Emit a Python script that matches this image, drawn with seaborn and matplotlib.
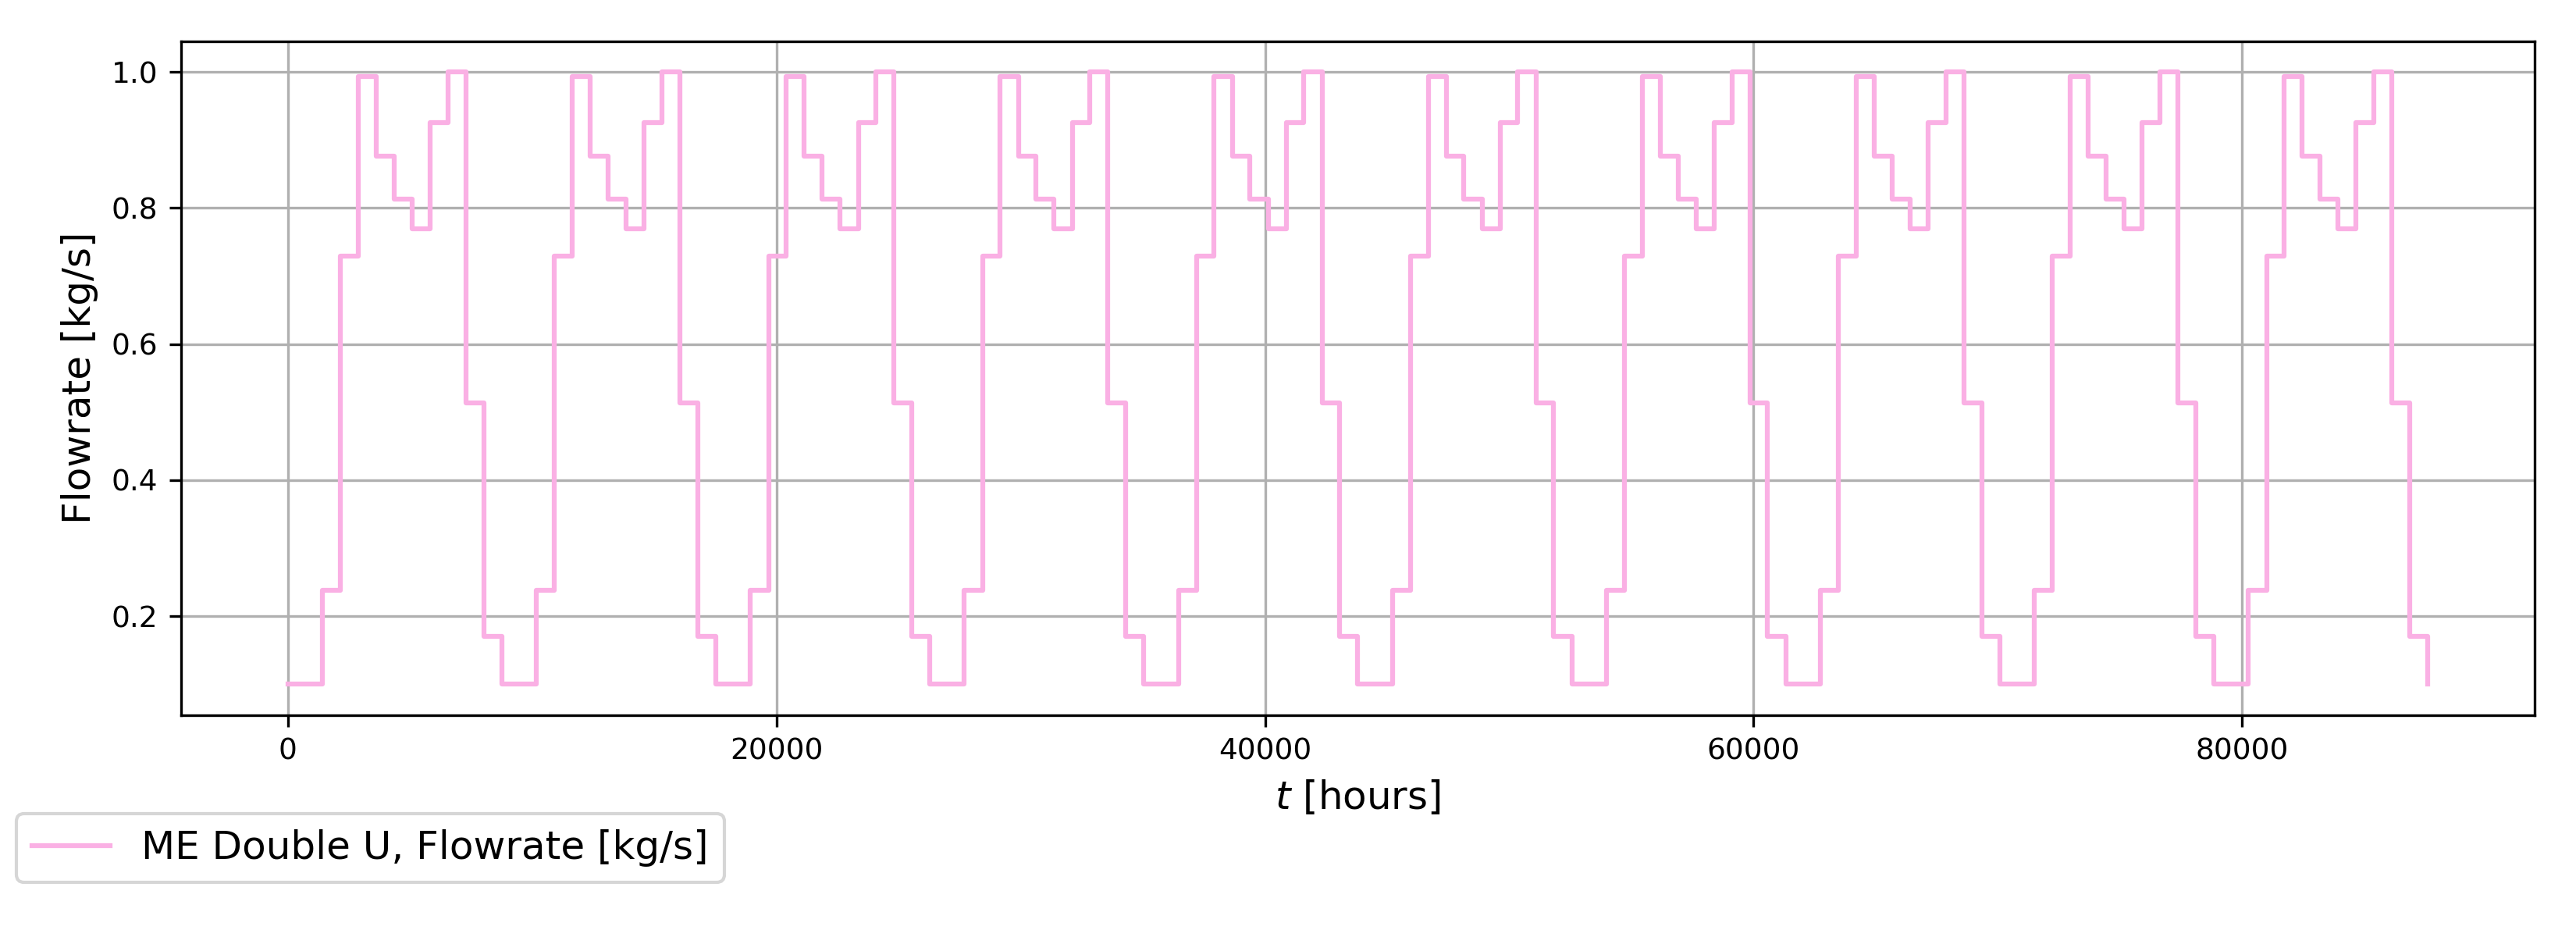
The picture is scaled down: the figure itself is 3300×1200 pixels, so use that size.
import numpy as np
import pandas as pd
import seaborn as sns
import matplotlib
matplotlib.use("Agg")
import matplotlib.pyplot as plt

# one year of monthly flow (Jan..Dec), same profile every year
month_hours = [744, 672, 744, 720, 744, 720, 744, 744, 720, 744, 720, 744]
monthly_flow = [0.10, 0.10, 0.238, 0.729, 0.993, 0.876, 0.813, 0.769, 0.925, 1.0, 0.513, 0.170]
n_years = 10

# month start times over the whole horizon, plus the final point
t_start = np.concatenate([[0], np.cumsum(month_hours * n_years)])
flow = monthly_flow * n_years + [monthly_flow[0]]

df = pd.DataFrame({"t": t_start, "flow": flow})

pastel = sns.color_palette("pastel")

fig, ax = plt.subplots(figsize=(11, 4), dpi=300)
sns.lineplot(data=df, x="t", y="flow", ax=ax, color=pastel[6], linewidth=1.5,
             drawstyle="steps-post", label="ME Double U, Flowrate [kg/s]", legend=False)

ax.grid(True)
ax.set_xlabel("$t$ [hours]", fontsize=12)
ax.set_ylabel("Flowrate [kg/s]", fontsize=12)
ax.tick_params(labelsize=9)

handles, labels = ax.get_legend_handles_labels()
fig.legend(handles, labels, loc="lower left", bbox_to_anchor=(0.0064, 0.058),
           borderaxespad=0, fontsize=12)

fig.subplots_adjust(left=0.0702, right=0.984, top=0.956, bottom=0.237)
fig.savefig("out.png", dpi=300)
